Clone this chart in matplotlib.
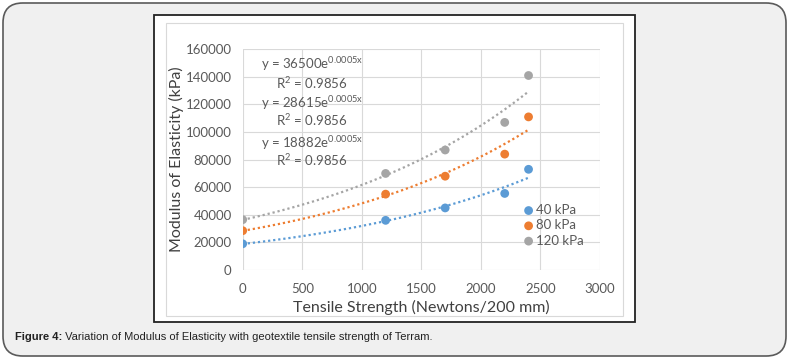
import numpy as np
import matplotlib
matplotlib.use('Agg')
import matplotlib.pyplot as plt
from matplotlib.patches import FancyBboxPatch, Rectangle

plt.rcParams['font.family'] = ['Lato', 'DejaVu Sans']
plt.rcParams['mathtext.default'] = 'regular'

strength = [0, 1200, 1700, 2200, 2400]
e_40 = [19000, 36000, 45000, 55500, 73000]
e_80 = [28500, 55000, 68000, 84000, 111000]
e_120 = [36500, 70000, 87000, 107000, 141000]
labels = ['40 kPa', '80 kPa', '120 kPa']
colors = ['#5B9BD5', '#ED7D31', '#A5A5A5']
equations = ['y = 36500e$^{0.0005x}$', 'y = 28615e$^{0.0005x}$', 'y = 18882e$^{0.0005x}$']
r2 = 'R$^2$ = 0.9856'

W, H = 791, 360
fig = plt.figure(figsize=(W / 100, H / 100), dpi=100)
fig.patch.set_facecolor('white')


def box(x0, y0, x1, y1):
    # pixel box (top-left origin) -> figure fractions
    return x0 / W, 1 - y1 / H, (x1 - x0) / W, (y1 - y0) / H


x, y, w, h = box(3, 3, 786, 356)
fig.patches.append(FancyBboxPatch((x, y), w, h, boxstyle='round,pad=0,rounding_size=0.025',
                                  transform=fig.transFigure, facecolor='#f0f0f0',
                                  edgecolor='#5a5a5a', linewidth=1.2, mutation_aspect=W / H,
                                  zorder=-10))
x, y, w, h = box(154, 15, 635, 322)
fig.patches.append(Rectangle((x, y), w, h, transform=fig.transFigure, zorder=-9,
                             facecolor='white', edgecolor='#222222', linewidth=1.3))
x, y, w, h = box(166, 23, 623, 316)
fig.patches.append(Rectangle((x, y), w, h, transform=fig.transFigure, zorder=-8,
                             facecolor='white', edgecolor='#d9d9d9', linewidth=0.8))

ax = fig.add_axes(box(242.7, 49.3, 600, 270))
ax.set_facecolor('white')
xs = np.linspace(0, 2400, 100)
for vals, lab, c in zip([e_40, e_80, e_120], labels, colors):
    b, a = np.polyfit(strength, np.log(vals), 1)
    ax.plot(xs, np.exp(a) * np.exp(b * xs), color=c, linestyle=(0, (1, 1.3)),
            linewidth=1.6, zorder=2)
    ax.scatter(strength, vals, s=40, color=c, label=lab, zorder=3, edgecolors='none')

ax.set_xlim(0, 3000)
ax.set_ylim(0, 160000)
ax.set_xticks(range(0, 3001, 500))
ax.set_yticks(range(0, 160001, 20000))
ax.grid(True, color='#d9d9d9', linewidth=0.8)
ax.set_axisbelow(True)
for s in ax.spines.values():
    s.set_visible(False)
ax.tick_params(length=0, labelsize=9.5, labelcolor='#595959')
ax.tick_params(axis='x', pad=9.5)
ax.tick_params(axis='y', pad=8)
ax.set_xlabel('Tensile Strength (Newtons/200 mm)', fontsize=11.5, color='#404040', labelpad=3.5)
ax.set_ylabel('Modulus of Elasticity (kPa)', fontsize=11.5, color='#404040', labelpad=1)

eq_y = [[64, 83], [103, 120], [143, 160]]
for eq, (y1, y2) in zip(equations, eq_y):
    fig.text(312 / W, 1 - y1 / H, eq, ha='center', va='center', fontsize=9.5, color='#595959')
    fig.text(312 / W, 1 - y2 / H, r2, ha='center', va='center', fontsize=9.5, color='#595959')

ax.legend(loc='upper left', bbox_to_anchor=((522 - 242.7) / (600 - 242.7), (270 - 204) / (270 - 49.3)),
          frameon=False, fontsize=9.5, labelcolor='#595959', handletextpad=0.05,
          borderaxespad=0, labelspacing=0.25, borderpad=0, handlelength=1.0, scatterpoints=1)

cap_font = ['Liberation Sans', 'DejaVu Sans']
t1 = fig.text(15 / W, 1 - 337 / H, 'Figure 4:', fontsize=8, fontweight='bold',
              color='#222222', va='center', family=cap_font)
ax.annotate(' Variation of Modulus of Elasticity with geotextile tensile strength of Terram.',
            xy=(1, 0.5), xycoords=t1, va='center', fontsize=8, color='#222222',
            annotation_clip=False, family=cap_font)

fig.savefig('out.png', dpi=100)
